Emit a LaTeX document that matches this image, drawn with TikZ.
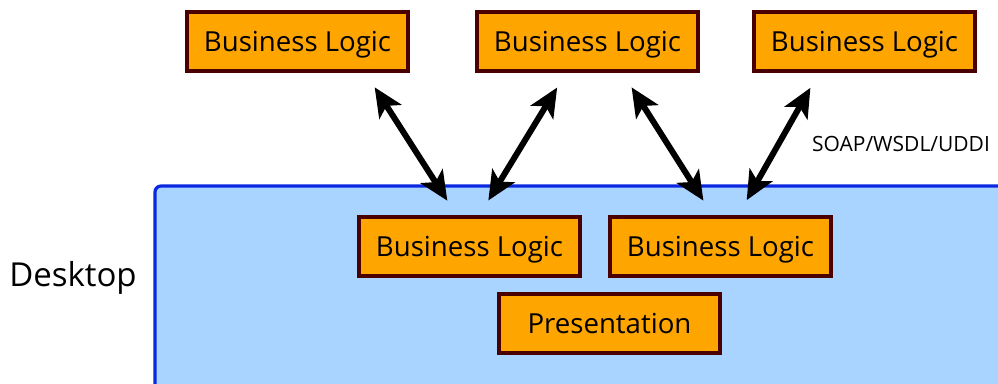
\documentclass[tikz,border=0pt]{standalone}
\usepackage{fontspec}
\setmainfont{Open Sans}
\usetikzlibrary{arrows.meta,positioning,calc}
\definecolor{logicfill}{HTML}{FFA500}
\definecolor{logicedge}{HTML}{4A0000}
\definecolor{deskfill}{HTML}{A8D4FF}
\definecolor{deskedge}{HTML}{0A28E0}

\begin{document}
\begin{tikzpicture}[x=0.5pt,y=-0.5pt,
    layer/.style={draw=logicedge, fill=logicfill, line width=2pt, minimum width=110.5pt, minimum height=29.5pt, inner sep=0pt, text depth=0pt, font=\fontsize{13.8}{16}\selectfont},
    link/.style={line width=3pt, {Stealth[length=14.5pt,width=13pt,inset=3.5pt]}-{Stealth[length=14.5pt,width=13pt,inset=3.5pt]}, shorten <=8.5pt, shorten >=8.5pt}]
        \useasboundingbox (0,0) rectangle (998,384);
        \clip (0,0) rectangle (998,384);
        %desktop area
        \draw[deskedge, fill=deskfill, line width=1.6pt, rounded corners=3pt] (155,186) rectangle (1020,420);
        \node[font=\fontsize{16.5}{19}\selectfont] (desk) at (73,278) {Desktop};
        %nodes
        \node[layer] (t1) at (297.5,41.5) {Business Logic};
        \node[layer] (t2) at (587.5,41.5) {Business Logic};
        \node[layer] (t3) at (864.5,41.5) {Business Logic};
        \node[layer] (m1) at (469.5,246.5) {Business Logic};
        \node[layer] (m2) at (720.5,246.5) {Business Logic};
        \node[layer] (pres) at (609.5,323.5) {Presentation};
        \node[font=\fontsize{10.5}{12}\selectfont] (soap) at (901,144) {SOAP/WSDL/UDDI};
        %edges
        \path [draw, link] ([xshift=34pt]t1.south) to ([xshift=-6.5pt]m1.north);
        \path [draw, link] ([xshift=-10.75pt]t2.south) to ([xshift=5pt]m1.north);
        \path [draw, link] ([xshift=17.5pt]t2.south) to ([xshift=-4pt]m2.north);
        \path [draw, link] ([xshift=-22.85pt]t3.south) to ([xshift=8.9pt]m2.north);
\end{tikzpicture}
\end{document}
